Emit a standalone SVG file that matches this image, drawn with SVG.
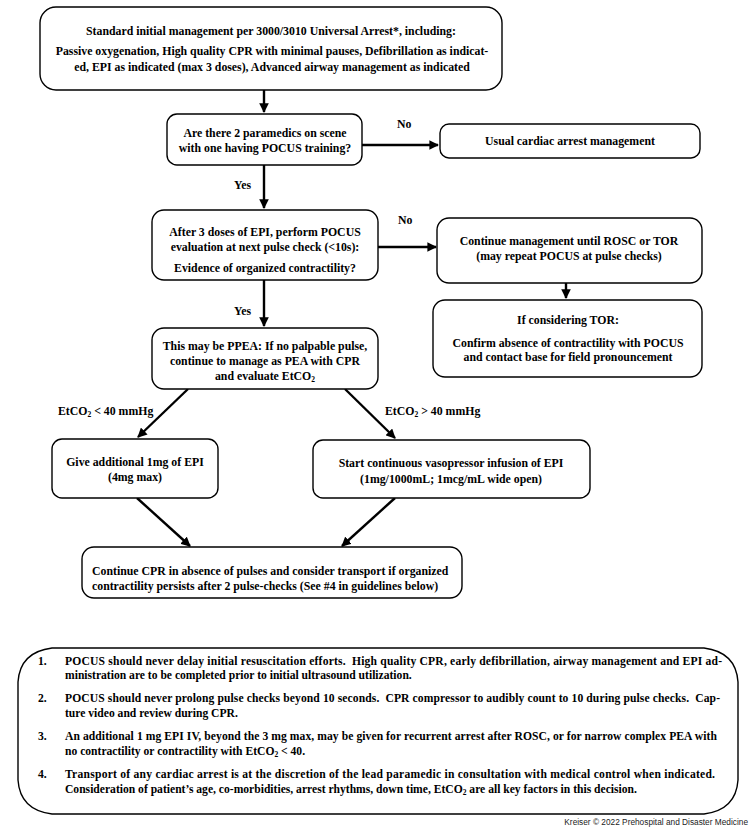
<svg xmlns="http://www.w3.org/2000/svg" width="754" height="830" viewBox="0 0 754 830">
<defs>
<style>
.b{fill:#fff;stroke:#000;stroke-width:1.4}
.t{font-family:"Liberation Serif","Times New Roman",serif;font-weight:bold;font-size:11.8px;fill:#000}
.n{font-family:"Liberation Serif","Times New Roman",serif;font-weight:bold;font-size:11.6px;fill:#000;white-space:pre}
.m{text-anchor:middle}
.c{stroke:#000;stroke-width:2.4;fill:none}
.s{font-size:7.5px}
.cr{font-family:"Liberation Sans",Arial,sans-serif;font-size:8.3px;fill:#222;text-anchor:end}
</style>
<marker id="ah" viewBox="0 0 10 10" refX="9" refY="5" markerWidth="4" markerHeight="4" orient="auto" markerUnits="strokeWidth">
<path d="M0,0 L10,5 L0,10 z" fill="#000"/>
</marker>
</defs>
<rect width="754" height="830" fill="#fff"/>

<g id="connectors">
<line class="c" x1="264" y1="90" x2="264" y2="112" marker-end="url(#ah)"/>
<line class="c" x1="362" y1="145" x2="438" y2="145" marker-end="url(#ah)"/>
<line class="c" x1="264" y1="165" x2="264" y2="208" marker-end="url(#ah)"/>
<line class="c" x1="378" y1="247" x2="436" y2="247" marker-end="url(#ah)"/>
<line class="c" x1="566" y1="283" x2="566" y2="298" marker-end="url(#ah)"/>
<line class="c" x1="264" y1="280" x2="264" y2="326" marker-end="url(#ah)"/>
<line class="c" x1="188" y1="389" x2="138" y2="437" marker-end="url(#ah)"/>
<line class="c" x1="345" y1="389" x2="395" y2="438" marker-end="url(#ah)"/>
<line class="c" x1="137" y1="498" x2="190" y2="546" marker-end="url(#ah)"/>
<line class="c" x1="395" y1="498" x2="342" y2="546" marker-end="url(#ah)"/>
<text class="t" x="397" y="128">No</text>
<text class="t" x="234" y="189">Yes</text>
<text class="t" x="398" y="224">No</text>
<text class="t" x="234" y="315">Yes</text>
<text class="t" x="58" y="415">EtCO<tspan class="s" dy="2">2</tspan><tspan dy="-2"> &lt; 40 mmHg</tspan></text>
<text class="t" x="385" y="415">EtCO<tspan class="s" dy="2">2</tspan><tspan dy="-2"> &gt; 40 mmHg</tspan></text>
</g>

<g id="n-start">
<rect class="b" x="40" y="7" width="462" height="83" rx="16"/>
<text class="t m" x="271" y="35">Standard initial management per 3000/3010 Universal Arrest*, including:</text>
<text class="t m" x="272" y="55">Passive oxygenation, High quality CPR with minimal pauses, Defibrillation as indicat-</text>
<text class="t m" x="272" y="71">ed, EPI as indicated (max 3 doses), Advanced airway management as indicated</text>
</g>

<g id="n-paramedics">
<rect class="b" x="167" y="114" width="195" height="51" rx="10"/>
<text class="t m" x="265" y="137">Are there 2 paramedics on scene</text>
<text class="t m" x="265" y="152">with one having POCUS training?</text>
</g>

<g id="n-usual">
<rect class="b" x="440" y="124" width="260" height="34" rx="9"/>
<text class="t m" x="570" y="145">Usual cardiac arrest management</text>
</g>

<g id="n-pocus">
<rect class="b" x="152" y="210" width="226" height="70" rx="12"/>
<text class="t m" x="265" y="236">After 3 doses of EPI, perform POCUS</text>
<text class="t m" x="265" y="251">evaluation at next pulse check (&lt;10s):</text>
<text class="t m" x="265" y="272">Evidence of organized contractility?</text>
</g>

<g id="n-continue">
<rect class="b" x="437" y="218" width="265" height="65" rx="12"/>
<text class="t m" x="569" y="245">Continue management until ROSC or TOR</text>
<text class="t m" x="569" y="260">(may repeat POCUS at pulse checks)</text>
</g>

<g id="n-tor">
<rect class="b" x="433" y="300" width="269" height="77" rx="12"/>
<text class="t m" x="568" y="324">If considering TOR:</text>
<text class="t m" x="568" y="347">Confirm absence of contractility with POCUS</text>
<text class="t m" x="568" y="361">and contact base for field pronouncement</text>
</g>

<g id="n-ppea">
<rect class="b" x="152" y="328" width="226" height="61" rx="12"/>
<text class="t m" x="265" y="350">This may be PPEA: If no palpable pulse,</text>
<text class="t m" x="265" y="365">continue to manage as PEA with CPR</text>
<text class="t m" x="265" y="380">and evaluate EtCO<tspan class="s" dy="2">2</tspan></text>
</g>

<g id="n-give">
<rect class="b" x="52" y="439" width="166" height="59" rx="10"/>
<text class="t m" x="135" y="466">Give additional 1mg of EPI</text>
<text class="t m" x="135" y="481">(4mg max)</text>
</g>

<g id="n-infusion">
<rect class="b" x="313" y="440" width="277" height="58" rx="10"/>
<text class="t m" x="451" y="467">Start continuous vasopressor infusion of EPI</text>
<text class="t m" x="451" y="483">(1mg/1000mL; 1mcg/mL wide open)</text>
</g>

<g id="n-cpr">
<rect class="b" x="82" y="547" width="380" height="51" rx="12"/>
<text class="t" x="92" y="575">Continue CPR in absence of pulses and consider transport if organized</text>
<text class="t" x="92" y="590">contractility persists after 2 pulse-checks (See #4 in guidelines below)</text>
</g>

<g id="n-notes">
<path class="b" d="M52,648 H704 Q736,652 738,682 V780 Q736,810 704,814 H52 Q20,810 18,780 V682 Q20,652 52,648 Z"/>
<text class="n" x="38" y="665">1.</text>
<text class="n" x="65" y="665" xml:space="preserve" textLength="657" lengthAdjust="spacing">POCUS should never delay initial resuscitation efforts.  High quality CPR, early defibrillation, airway management and EPI ad-</text>
<text class="n" x="65" y="679">ministration are to be completed prior to initial ultrasound utilization.</text>
<text class="n" x="38" y="702">2.</text>
<text class="n" x="65" y="702" xml:space="preserve" textLength="655" lengthAdjust="spacing">POCUS should never prolong pulse checks beyond 10 seconds.  CPR compressor to audibly count to 10 during pulse checks.  Cap-</text>
<text class="n" x="65" y="717">ture video and review during CPR.</text>
<text class="n" x="38" y="740">3.</text>
<text class="n" x="65" y="740" textLength="652" lengthAdjust="spacing">An additional 1 mg EPI IV, beyond the 3 mg max, may be given for recurrent arrest after ROSC, or for narrow complex PEA with</text>
<text class="n" x="65" y="755">no contractility or contractility with EtCO<tspan class="s" dy="2">2</tspan><tspan dy="-2"> &lt; 40.</tspan></text>
<text class="n" x="38" y="778">4.</text>
<text class="n" x="65" y="778" textLength="650" lengthAdjust="spacing">Transport of any cardiac arrest is at the discretion of the lead paramedic in consultation with medical control when indicated.</text>
<text class="n" x="65" y="793">Consideration of patient’s age, co-morbidities, arrest rhythms, down time, EtCO<tspan class="s" dy="2">2</tspan><tspan dy="-2"> are all key factors in this decision.</tspan></text>
</g>

<text class="cr" x="748" y="825">Kreiser © 2022 Prehospital and Disaster Medicine</text>
</svg>
